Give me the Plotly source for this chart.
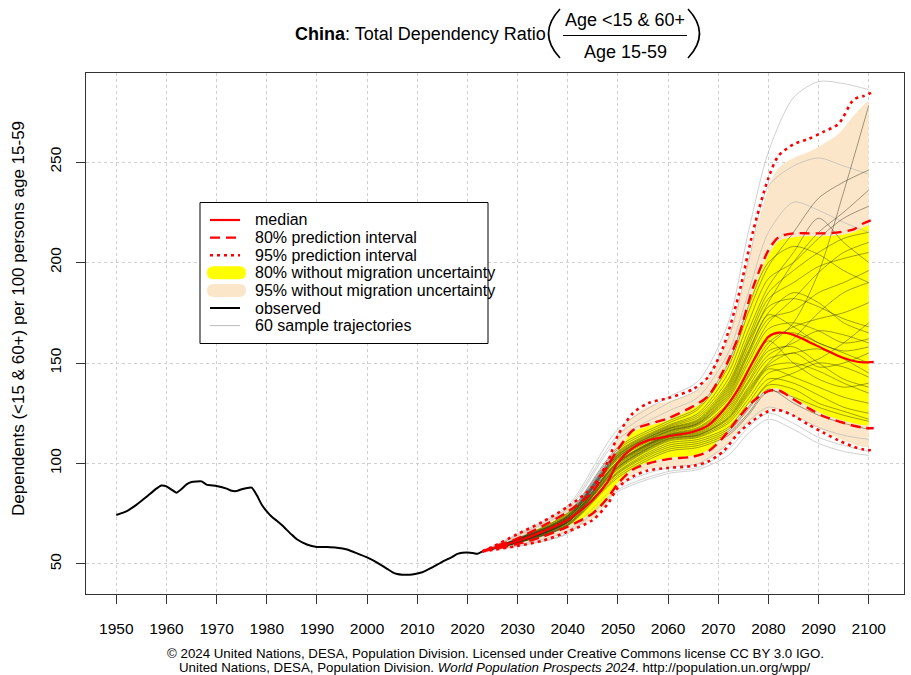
import plotly.graph_objects as go

# ---------------- data ----------------
OBS_YEARS = [1950, 1952, 1954, 1956, 1958, 1959, 1960, 1961, 1962, 1963, 1964, 1965, 1967, 1968,
             1970, 1972, 1973, 1974, 1975, 1977, 1978, 1979, 1980, 1981, 1982, 1983, 1985, 1986,
             1988, 1990, 1992, 1994, 1996, 1998, 2000, 2002, 2004, 2005, 2006, 2007, 2009, 2011,
             2013, 2015, 2017, 2018, 2019, 2020, 2021, 2022, 2023]
OBS_VALUES = [74.4, 76.2, 79.4, 83.4, 87.5, 89.0, 88.6, 87.0, 85.5, 87.3, 89.6, 90.8, 91.1, 89.5,
              88.8, 87.5, 86.4, 86.3, 87.2, 88.0, 84.3, 79.5, 76.2, 73.5, 71.5, 69.4, 64.5, 62.3,
              59.7, 58.5, 58.4, 58.1, 57.2, 55.3, 53.3, 50.7, 47.6, 46.0, 45.0, 44.7, 44.8, 45.9,
              48.3, 51.1, 53.6, 55.0, 55.6, 55.7, 55.5, 55.1, 56.3]

PROJ_YEARS = [2023, 2025, 2030, 2035, 2040, 2045, 2048, 2050, 2053, 2056, 2060, 2065, 2068,
              2071, 2074, 2077, 2080, 2082, 2085, 2088, 2091, 2094, 2097, 2099, 2101]
MEDIAN = [56.3, 57.8, 61.4, 66.1, 72.0, 82.0, 91.0, 100.5, 107.8, 111.5, 113.5, 115.8, 119.0,
          126.5, 137.0, 151.0, 163.0, 165.1, 164.0, 160.6, 157.0, 153.5, 151.0, 150.3, 150.6]
PI80_UP = [56.3, 58.2, 62.8, 68.9, 76.0, 86.0, 99.0, 107.0, 116.5, 119.5, 122.5, 128.5, 133.5,
           146.0, 163.0, 188.0, 206.0, 212.5, 214.5, 214.5, 214.5, 215.0, 216.5, 219.5, 221.5]
PI80_LO = [56.3, 57.3, 60.0, 63.6, 68.6, 75.2, 83.0, 90.0, 97.0, 100.0, 102.2, 103.4, 106.0,
           113.0, 122.5, 131.0, 136.0, 136.5, 132.0, 127.5, 123.5, 121.0, 118.8, 117.8, 117.5]
PI95_UP = [56.3, 58.5, 64.9, 71.0, 78.5, 88.5, 101.0, 114.0, 125.0, 130.0, 132.5, 137.0, 143.0,
           158.0, 183.0, 216.0, 242.0, 253.0, 258.8, 261.5, 265.0, 269.0, 281.0, 282.8, 285.0]
PI95_LO = [56.3, 57.0, 59.0, 61.6, 66.1, 71.9, 80.0, 88.0, 93.5, 96.5, 97.8, 98.8, 101.0,
           106.0, 115.0, 121.5, 126.0, 126.6, 123.8, 119.3, 115.3, 111.5, 108.3, 107.0, 106.5]

BAND_YEARS = [2023, 2025, 2030, 2035, 2040, 2045, 2048, 2050, 2053, 2056, 2060, 2065, 2068,
              2071, 2074, 2077, 2080, 2082, 2085, 2088, 2091, 2094, 2097, 2099, 2100]
NOMIG80_UP = [56.3, 58.1, 62.6, 68.5, 75.5, 85.5, 98.0, 106.0, 115.5, 118.5, 121.5, 127.5, 132.5,
              144.0, 160.0, 185.0, 203.5, 210.5, 212.5, 213.0, 213.0, 213.5, 215.0, 217.5, 218.5]
NOMIG80_LO = [56.3, 57.4, 60.2, 64.0, 69.0, 75.8, 83.5, 90.5, 97.5, 100.5, 102.8, 104.0, 106.8,
              114.0, 123.5, 132.0, 137.0, 137.3, 133.0, 128.5, 124.5, 122.0, 120.0, 119.0, 119.0]
NOMIG95_UP = [56.3, 58.4, 64.5, 70.5, 78.0, 88.0, 100.0, 112.5, 123.5, 128.5, 131.0, 135.5, 141.5,
              156.0, 180.0, 211.0, 237.0, 247.0, 252.0, 255.0, 259.0, 264.0, 273.0, 278.5, 280.5]
NOMIG95_LO = [56.3, 57.1, 59.3, 62.0, 66.6, 72.5, 80.8, 88.8, 94.3, 97.2, 98.5, 99.5, 101.8,
              107.5, 116.0, 122.3, 126.8, 127.3, 124.6, 120.2, 116.3, 112.5, 109.5, 108.3, 108.0]

TRAJ_YEARS = [2023, 2030, 2040, 2050, 2060, 2066, 2072, 2076, 2080, 2085, 2090, 2095, 2100]
TRAJ_DARK = [
    [56.3, 62.8, 75.5, 108, 121, 128, 150, 178, 200, 208, 204, 196, 190],
    [56.3, 62.5, 74.5, 106, 119, 125, 145, 170, 192, 200, 212, 222, 228],
    [56.3, 62.3, 74.0, 105, 118, 123, 140, 163, 185, 196, 205, 212, 215],
    [56.3, 62.0, 73.5, 104, 117, 121, 137, 158, 178, 182, 178, 172, 168],
    [56.3, 61.8, 73.0, 103, 116, 120, 134, 154, 172, 176, 185, 190, 196],
    [56.3, 61.6, 72.5, 102, 115, 119, 132, 150, 167, 170, 166, 160, 162],
    [56.3, 61.5, 72.2, 101, 114.5, 118, 130, 147, 163, 165, 160, 155, 150],
    [56.3, 61.4, 72.0, 100.5, 114, 117, 128, 144, 160, 168, 172, 175, 180],
    [56.3, 61.3, 71.5, 100, 113.5, 116, 126, 141, 156, 158, 150, 142, 138],
    [56.3, 61.2, 71.2, 99, 113, 115, 124, 138, 152, 155, 157, 152, 145],
    [56.3, 61.0, 70.8, 98, 112, 114, 122, 135, 148, 150, 146, 140, 135],
    [56.3, 60.9, 70.5, 97, 111, 113, 120, 132, 145, 148, 152, 160, 170],
    [56.3, 60.8, 70.0, 96, 110, 112, 118, 130, 142, 140, 134, 128, 125],
    [56.3, 60.6, 69.5, 95, 108, 110, 116, 127, 139, 137, 130, 126, 122],
    [56.3, 60.4, 69.0, 93, 106, 108, 114, 124, 136, 133, 128, 124, 121],
    [56.3, 62.6, 75.0, 107, 120, 127, 148, 175, 198, 215, 232, 240, 246],
    [56.3, 62.4, 74.2, 105.5, 118.5, 124, 142, 166, 188, 205, 222, 210, 200],
    [56.3, 61.7, 72.8, 102.5, 115.5, 119.5, 133, 152, 170, 182, 195, 205, 210],
    [56.3, 61.1, 71.0, 98.5, 112.5, 114.5, 123, 137, 150, 162, 175, 185, 190],
    [56.3, 60.7, 69.8, 95.5, 109, 111, 117, 128, 140, 145, 150, 148, 143],
    [56.3, 61.9, 73.2, 103.5, 116.5, 120.5, 136, 156, 175, 185, 180, 170, 165],
    [56.3, 61.45, 72.1, 100.8, 114.2, 117.5, 129, 146, 161, 150, 142, 138, 140],
    [56.3, 61.3, 71.6, 100.2, 113.8, 116.5, 127, 143, 158, 170, 195, 235, 278],
    [56.3, 60.5, 69.2, 94, 107, 109, 115, 125, 137, 130, 124, 120, 117],
    [56.3, 62.2, 73.8, 104.5, 117.5, 122, 139, 161, 182, 190, 198, 202, 205],
    [56.3, 61.8, 72.9, 103.2, 116, 120, 135, 155, 174, 168, 160, 156, 158],
    [56.3, 61.2, 71.4, 99.5, 113.2, 115.5, 125, 140, 154, 160, 166, 164, 160],
    [56.3, 60.9, 70.6, 97.5, 111.5, 113.5, 121, 134, 147, 143, 138, 133, 130],
    [56.3, 62.1, 73.6, 104.2, 117.2, 121.5, 138, 160, 180, 200, 215, 225, 236],
    [56.3, 61.0, 70.9, 98.2, 112.2, 114.2, 122.5, 136, 149, 155, 148, 150, 155],
]
TRAJ_LIGHT = [
    [56.3, 65.0, 79.0, 117, 133, 141, 170, 215, 255, 282, 290, 289, 286],
    [56.3, 64.5, 78.0, 114, 130, 137, 162, 200, 238, 248, 252, 248, 244],
    [56.3, 59.0, 65.5, 87, 96, 98, 107, 118, 125, 120, 113, 109, 106],
    [56.3, 58.8, 65.0, 86, 95, 97, 104, 115, 122, 117, 110, 106, 104],
    [56.3, 64.0, 77.0, 112, 126, 133, 155, 185, 215, 230, 226, 220, 215],
    [56.3, 59.5, 66.5, 89, 98, 100, 110, 121, 128, 124, 118, 114, 112],
]

X_TICKS = [1950, 1960, 1970, 1980, 1990, 2000, 2010, 2020, 2030, 2040, 2050, 2060, 2070,
           2080, 2090, 2100]
Y_TICKS = [50, 100, 150, 200, 250]
LEGEND_LABELS = ["median", "80% prediction interval", "95% prediction interval",
                 "80% without migration uncertainty", "95% without migration uncertainty",
                 "observed", "60 sample trajectories"]

# ---------------- layout geometry ----------------
W, H = 911, 675
ML, MR, MT, MB = 86, 7, 73, 81
PW, PH = W - ML - MR, H - MT - MB


def px(xp):
    return (xp - ML) / PW


def py(yp):
    return (H - MB - yp) / PH


FONT = "Liberation Sans, Arial, Helvetica, sans-serif"
RED = "#FF0000"
YELLOW = "#FFFF00"
BEIGE = "#FCE6C9"

fig = go.Figure()

# 95% without migration (beige)
fig.add_trace(go.Scatter(x=BAND_YEARS, y=NOMIG95_LO, mode="lines", line=dict(width=0, shape="spline", smoothing=0.8),
                         showlegend=False, hoverinfo="skip"))
fig.add_trace(go.Scatter(x=BAND_YEARS, y=NOMIG95_UP, mode="lines", line=dict(width=0, shape="spline", smoothing=0.8),
                         fill="tonexty", fillcolor=BEIGE, showlegend=False, hoverinfo="skip"))
# 80% without migration (yellow)
fig.add_trace(go.Scatter(x=BAND_YEARS, y=NOMIG80_LO, mode="lines", line=dict(width=0, shape="spline", smoothing=0.8),
                         showlegend=False, hoverinfo="skip"))
fig.add_trace(go.Scatter(x=BAND_YEARS, y=NOMIG80_UP, mode="lines", line=dict(width=0, shape="spline", smoothing=0.8),
                         fill="tonexty", fillcolor=YELLOW, showlegend=False, hoverinfo="skip"))

# sample trajectories
for tr in TRAJ_LIGHT:
    fig.add_trace(go.Scatter(x=TRAJ_YEARS, y=tr, mode="lines",
                             line=dict(width=0.9, color="rgba(180,180,180,0.7)", shape="spline", smoothing=0.8),
                             showlegend=False, hoverinfo="skip"))
for tr in TRAJ_DARK:
    fig.add_trace(go.Scatter(x=TRAJ_YEARS, y=tr, mode="lines",
                             line=dict(width=0.8, color="rgba(40,40,20,0.55)", shape="spline", smoothing=0.8),
                             showlegend=False, hoverinfo="skip"))

# observed
fig.add_trace(go.Scatter(x=OBS_YEARS, y=OBS_VALUES, mode="lines",
                         line=dict(width=2, color="black", shape="spline", smoothing=0.4),
                         showlegend=False, hoverinfo="skip"))

# prediction intervals and median
for arr in (PI95_UP, PI95_LO):
    fig.add_trace(go.Scatter(x=PROJ_YEARS, y=arr, mode="lines",
                             line=dict(width=2.6, color=RED, dash="3px,4px", shape="spline", smoothing=0.8),
                             showlegend=False, hoverinfo="skip"))
for arr in (PI80_UP, PI80_LO):
    fig.add_trace(go.Scatter(x=PROJ_YEARS, y=arr, mode="lines",
                             line=dict(width=2.4, color=RED, dash="10px,6px", shape="spline", smoothing=0.8),
                             showlegend=False, hoverinfo="skip"))
fig.add_trace(go.Scatter(x=PROJ_YEARS, y=MEDIAN, mode="lines",
                         line=dict(width=2.2, color=RED, shape="spline", smoothing=0.8),
                         showlegend=False, hoverinfo="skip"))

# ---------------- shapes & annotations ----------------
shapes = []
annotations = []

# title: parentheses and fraction bar
shapes.append(dict(type="path", xref="paper", yref="paper",
                   path=f"M {px(560)},{py(9)} Q {px(537)},{py(33.5)} {px(560)},{py(58)}",
                   line=dict(color="black", width=1.6), layer="above"))
shapes.append(dict(type="path", xref="paper", yref="paper",
                   path=f"M {px(688)},{py(9)} Q {px(711)},{py(33.5)} {px(688)},{py(58)}",
                   line=dict(color="black", width=1.6), layer="above"))
shapes.append(dict(type="line", xref="paper", yref="paper", x0=px(563), x1=px(687), y0=py(35.5), y1=py(35.5),
                   line=dict(color="black", width=1), layer="above"))

annotations.append(dict(x=px(548), y=py(33.5), xref="paper", yref="paper", xanchor="right", yanchor="middle",
                        text="<b>China</b>: Total Dependency Ratio", showarrow=False,
                        font=dict(size=18, color="black", family=FONT)))
annotations.append(dict(x=px(625), y=py(20), xref="paper", yref="paper", xanchor="center", yanchor="middle",
                        text="Age &lt;15 &amp; 60+", showarrow=False,
                        font=dict(size=18, color="black", family=FONT)))
annotations.append(dict(x=px(625), y=py(51.5), xref="paper", yref="paper", xanchor="center", yanchor="middle",
                        text="Age 15-59", showarrow=False,
                        font=dict(size=18, color="black", family=FONT)))

# y-axis title
annotations.append(dict(x=px(18), y=py(319), xref="paper", yref="paper", xanchor="center", yanchor="middle",
                        text="Dependents (&lt;15 &amp; 60+) per 100 persons age 15-59", textangle=-90,
                        showarrow=False, font=dict(size=17, color="black", family=FONT)))

# footer
annotations.append(dict(x=px(495), y=py(653), xref="paper", yref="paper", xanchor="center", yanchor="middle",
                        text="\u00a9 2024 United Nations, DESA, Population Division. Licensed under Creative Commons license CC BY 3.0 IGO.",
                        showarrow=False, font=dict(size=13.3, color="black", family=FONT)))
annotations.append(dict(x=px(495), y=py(667), xref="paper", yref="paper", xanchor="center", yanchor="middle",
                        text="United Nations, DESA, Population Division. <i>World Population Prospects 2024</i>. http://population.un.org/wpp/",
                        showarrow=False, font=dict(size=13.3, color="black", family=FONT)))

# legend box
shapes.append(dict(type="rect", xref="paper", yref="paper", x0=px(200), x1=px(488), y0=py(202.5), y1=py(343.5),
                   line=dict(color="black", width=1), fillcolor="white", layer="above"))
rows = [220, 237.6, 255.2, 272.8, 290.4, 308, 325.6]
line_styles = [
    dict(color=RED, width=2.2),
    dict(color=RED, width=2.4, dash="10px,6px"),
    dict(color=RED, width=2.6, dash="3px,4px"),
    None,
    None,
    dict(color="black", width=2),
    dict(color="rgba(180,180,180,0.9)", width=1),
]
for i, yc in enumerate(rows):
    st = line_styles[i]
    if st is not None:
        shapes.append(dict(type="line", xref="paper", yref="paper", x0=px(210), x1=px(240), y0=py(yc), y1=py(yc),
                           line=st, layer="above"))
    else:
        col = YELLOW if i == 3 else BEIGE
        l, r, rad = 207, 246, 6.5
        a, b = l + rad, r - rad
        t, bt = yc - rad, yc + rad
        path = (f"M {px(a)},{py(t)} L {px(b)},{py(t)} Q {px(r)},{py(t)} {px(r)},{py(yc)} "
                f"Q {px(r)},{py(bt)} {px(b)},{py(bt)} L {px(a)},{py(bt)} Q {px(l)},{py(bt)} {px(l)},{py(yc)} "
                f"Q {px(l)},{py(t)} {px(a)},{py(t)} Z")
        shapes.append(dict(type="path", xref="paper", yref="paper", path=path, fillcolor=col,
                           line=dict(width=0), layer="above"))
    annotations.append(dict(x=px(253), y=py(yc), xref="paper", yref="paper", xanchor="left", yanchor="middle",
                            text=LEGEND_LABELS[i], showarrow=False,
                            font=dict(size=16, color="black", family=FONT)))

fig.update_layout(
    width=W, height=H,
    margin=dict(l=ML, r=MR, t=MT, b=MB, pad=0),
    plot_bgcolor="white", paper_bgcolor="white",
    font=dict(family=FONT, size=15, color="black"),
    showlegend=False,
    shapes=shapes, annotations=annotations,
    xaxis=dict(range=[1943.96, 2107.04], tickmode="array", tickvals=X_TICKS,
               ticktext=[str(v) for v in X_TICKS],
               ticks="outside", ticklen=9, tickwidth=1, tickcolor="#333",
               ticklabelstandoff=11,
               showline=True, linecolor="#333", linewidth=1, mirror=True,
               showgrid=True, gridcolor="#cfcfcf", griddash="dot", gridwidth=1,
               zeroline=False, tickfont=dict(size=15.5, color="black", family=FONT)),
    yaxis=dict(range=[35.07, 294.28], tickmode="array", tickvals=Y_TICKS,
               ticktext=[str(v) for v in Y_TICKS], tickangle=-90,
               ticks="outside", ticklen=9, tickwidth=1, tickcolor="#333",
               ticklabelstandoff=9,
               showline=True, linecolor="#333", linewidth=1, mirror=True,
               showgrid=True, gridcolor="#cfcfcf", griddash="dot", gridwidth=1,
               zeroline=False, tickfont=dict(size=15.5, color="black", family=FONT)),
)

fig.write_html("out.html",
               config={"displayModeBar": False, "staticPlot": True},
               post_script="document.body.style.margin='0';document.body.style.padding='0';")
